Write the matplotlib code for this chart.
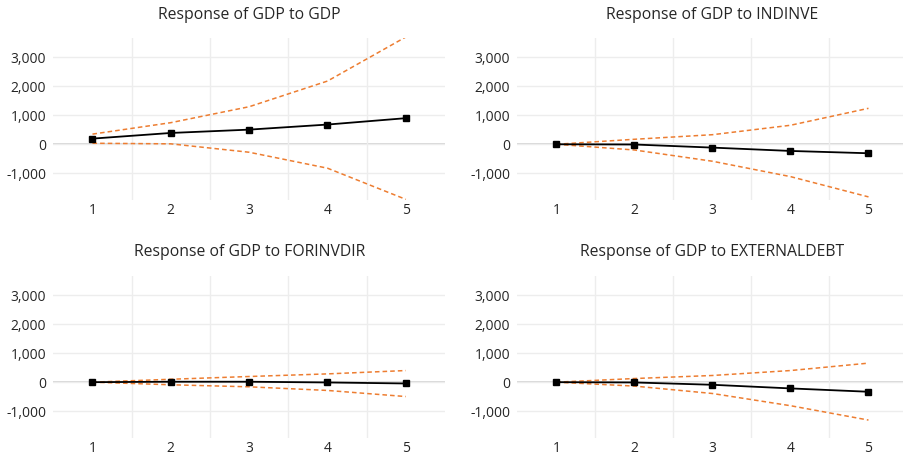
import matplotlib
matplotlib.use('Agg')
import matplotlib.pyplot as plt
from matplotlib.ticker import FuncFormatter, FixedLocator

# 数据
periods = [1, 2, 3, 4, 5]
titles = ['Response of GDP to GDP', 'Response of GDP to INDINVE',
          'Response of GDP to FORINVDIR', 'Response of GDP to EXTERNALDEBT']

gdp_resp = [195, 390, 505, 680, 900]
gdp_upper = [350, 745, 1295, 2180, 3700]
gdp_lower = [35, 15, -275, -825, -1900]

indinve_resp = [0, -8, -115, -230, -310]
indinve_upper = [0, 172, 330, 655, 1240]
indinve_lower = [0, -197, -585, -1115, -1815]

forinv_resp = [0, 15, 15, -10, -45]
forinv_upper = [0, 100, 195, 285, 400]
forinv_lower = [0, -90, -160, -285, -495]

extdebt_resp = [0, -10, -90, -215, -330]
extdebt_upper = [0, 125, 230, 400, 655]
extdebt_lower = [0, -135, -390, -810, -1305]

y_ticks = [-1000, 0, 1000, 2000, 3000]

plt.rcParams['font.family'] = ['Open Sans', 'DejaVu Sans']

W, H = 904, 457
fig = plt.figure(figsize=(W / 100, H / 100), dpi=100)

# 各子图的像素位置 (left, top, right, bottom)
boxes = [(53.3, 38, 445, 200), (517.3, 38, 907.5, 200),
         (53.3, 275.7, 445, 438), (517.3, 275.7, 907.5, 438)]
series = [(gdp_resp, gdp_upper, gdp_lower),
          (indinve_resp, indinve_upper, indinve_lower),
          (forinv_resp, forinv_upper, forinv_lower),
          (extdebt_resp, extdebt_upper, extdebt_lower)]

orange = '#ED7D31'
for (l, t, r, b), title, (resp, up, lo) in zip(boxes, titles, series):
    ax = fig.add_axes([l / W, 1 - b / H, (r - l) / W, (b - t) / H])
    ax.set_xlim(0.5, 5.5)
    ax.set_ylim(-1922, 3665)
    for s in ax.spines.values():
        s.set_visible(False)
    ax.yaxis.set_major_locator(FixedLocator(y_ticks))
    ax.yaxis.set_major_formatter(FuncFormatter(lambda v, p: f'{int(v):,}'))
    ax.set_xticks(periods)
    ax.xaxis.set_minor_locator(FixedLocator([1.5, 2.5, 3.5, 4.5]))
    ax.tick_params(which='both', length=0)
    ax.tick_params(axis='y', labelsize=10, colors='#262626', pad=5)
    ax.tick_params(axis='x', labelsize=10, colors='#262626', pad=2.5)
    ax.grid(axis='y', which='major', color='#EDEDED', lw=1)
    ax.grid(axis='x', which='minor', color='#EDEDED', lw=1)
    ax.grid(axis='x', which='major', visible=False)
    ax.axhline(0, color='#CFCFCF', lw=1.2, zorder=1)
    ax.plot(periods, up, color=orange, lw=1.1, dashes=(3, 2), zorder=2)
    ax.plot(periods, lo, color=orange, lw=1.1, dashes=(3, 2), zorder=2)
    ax.plot(periods, resp, color='black', lw=1.3, marker='s', ms=4.2, zorder=3)
    ax.set_title(title, fontsize=11.3, color='#262626', pad=14)

fig.savefig('out.png', dpi=100)
